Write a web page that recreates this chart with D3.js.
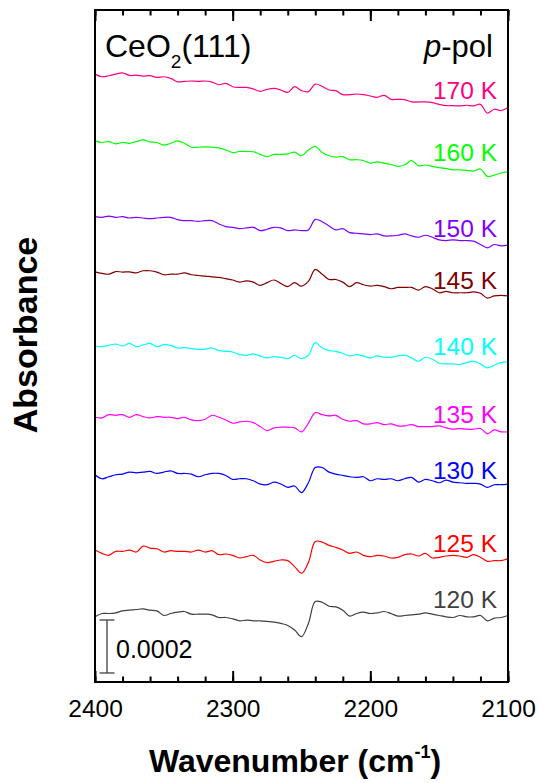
<html>
<head>
  <meta charset="UTF-8">
  <script src="https://d3js.org/d3.v7.min.js"></script>
  <style>
    body { margin: 0; background: #fff; }
    text { font-family: "Liberation Sans", Arial, sans-serif; }
  </style>
</head>
<body>
  <svg id="chart" width="539" height="783"></svg>
  <script>
    // spectra sampled every 5 cm-1 from 2400 to 2100, values in 1e-5 absorbance units
    const wavenumbers = d3.range(2400, 2099, -5);
    const temps = ["170 K", "160 K", "150 K", "145 K", "140 K", "135 K", "130 K", "125 K", "120 K"];
    const colors = ["#ff0080", "#00ff00", "#8000ff", "#800000", "#00ffff", "#ff00ff", "#0000ff", "#ff0000", "#404040"];
    const offsets = [229.4, 204.2, 175.6, 154.8, 126.8, 99.9, 78.2, 49.8, 24.6];

    const s170 = [0,-1.0,-0.6,0,0.5,-0.5,-0.4,-0.75,-0.6,-1.25, -1.0,-1.6,-2.9,-2.75,-2.6,-2.75,-2.6,-3.0,-4.0,-3.5,
      -4.75,-5.0,-5.0,-5.6,-6.5,-5.75,-5.4,-6.0,-6.9,-4.75, -6.25,-6.6,-3.75,-4.6,-6.0,-6.25,-7.75,-7.75,-7.5,-7.75,
      -8.25,-8.75,-8.0,-9.5,-9.5,-9.6,-10.5,-10.5,-10.5,-10.75, -11.4,-11.9,-11.9,-12.0,-11.75,-12.0,-11.4,-14.75,-13.25,-13.75, -12.6];
    const s160 = [0,-0.6,-0.25,-1.1,-0.6,-0.9,-0.25,0.4,-0.4,-0.6, -1.6,-0.9,0,-0.9,-2.4,-2.4,-2.25,-2.4,-2.6,-3.4,
      -4.4,-4.0,-4.0,-4.1,-5.1,-5.9,-5.1,-5.1,-4.9,-4.25, -5.6,-3.4,-2.1,-4.4,-5.6,-6.1,-5.9,-7.1,-7.1,-7.4,
      -8.4,-7.9,-8.4,-8.9,-9.6,-9.0,-7.4,-9.4,-9.1,-9.6, -10.1,-10.4,-10.9,-10.9,-11.1,-11.4,-10.6,-13.4,-12.9,-12.1, -11.6];
    const s150 = [0,-0.25,0.25,-0.25,0,-0.5,-0.25,-0.5,-0.75,-0.5, -0.25,-0.25,-1.1,-1.5,-1.5,-1.75,-1.5,-1.5,-2.75,-3.75,
      -4.0,-4.5,-4.25,-4.0,-5.25,-4.75,-4.0,-4.25,-5.25,-5.0, -5.25,-5.0,-1.0,-1.9,-3.5,-5.0,-4.5,-6.0,-6.25,-6.5,
      -6.75,-6.5,-7.25,-7.25,-7.0,-6.5,-7.25,-7.75,-7.0,-7.75, -8.75,-9.0,-8.75,-9.0,-9.0,-9.25,-10.5,-11.75,-10.5,-11.0, -10.75];
    const s145 = [0,-0.6,-0.9,0.1,-0.1,0,-0.4,0.4,0.4,-0.1, -1.1,-0.9,-0.9,-0.4,-1.1,-1.4,-1.6,-1.9,-2.1,-2.6,
      -3.1,-3.9,-3.4,-3.9,-5.1,-4.1,-3.1,-4.4,-5.6,-4.1, -5.4,-3.6,0.9,-0.9,-2.9,-2.9,-3.9,-5.6,-4.1,-4.9,
      -5.4,-5.1,-5.6,-6.4,-5.9,-5.9,-5.9,-6.9,-5.6,-6.4, -7.9,-7.4,-7.9,-7.9,-7.9,-7.6,-8.1,-9.9,-9.1,-8.9, -9.1];
    const s140 = [0,-0.25,0.25,0.75,0,1.0,-0.25,0.4,1.0,-0.25, 0.5,0.25,-0.75,-0.6,-1.0,-1.25,-1.25,-0.75,-1.75,-2.0,
      -2.25,-3.25,-3.5,-3.0,-3.75,-4.5,-4.0,-4.25,-4.75,-3.5, -4.75,-3.5,1.25,-0.75,-1.75,-2.0,-2.75,-3.75,-3.25,-3.75,
      -4.5,-3.75,-4.25,-4.25,-3.75,-3.5,-4.5,-5.75,-4.25,-5.0, -6.5,-6.75,-6.75,-7.0,-6.25,-5.75,-6.75,-8.25,-7.25,-6.25, -6.0];
    const s135 = [0,-0.25,1.0,0.75,1.0,0,1.0,0.25,-0.25,0.25, 0,0,-0.5,0,-1.0,-1.25,-0.75,0.75,0,-1.0,
      -2.25,-1.75,-1.5,-2.0,-3.5,-5.0,-4.0,-3.75,-3.75,-4.0, -5.5,-2.25,1.75,1.0,0.5,0.75,-0.75,-1.5,-1.25,-2.5,
      -2.5,-2.0,-2.75,-2.5,-3.25,-3.25,-2.75,-3.5,-3.5,-3.5, -3.25,-4.0,-4.5,-4.25,-4.5,-4.5,-4.25,-6.25,-4.75,-5.5, -5.5];
    const s130 = [0,-1.5,-0.75,0,0.25,1.0,0.75,1.0,1.25,0.5, 1.0,1.5,0.5,0.5,0.25,-0.75,0,0.5,0.5,-0.25,
      -1.75,-1.5,-1.5,-2.25,-3.5,-3.75,-2.75,-3.5,-4.75,-4.25, -6.75,-3.0,2.75,2.75,1.0,0.25,-0.25,-0.75,-1.0,-0.75,
      -2.25,-1.5,-1.75,-1.5,-2.25,-1.5,-1.0,-2.75,-1.75,-2.25, -3.0,-2.0,-2.75,-3.0,-3.25,-3.25,-3.5,-4.75,-3.75,-3.75, -3.5];
    const s125 = [0,-1.25,-2.0,-0.5,-0.5,0,-0.75,1.5,0.75,0.5, -0.75,-0.25,-0.5,-0.5,-0.75,0,-0.75,-0.25,-1.75,-1.5,
      -2.0,-3.0,-2.5,-2.0,-3.75,-4.75,-4.25,-3.75,-4.0,-6.25, -8.75,-4.75,3.25,3.0,1.75,1.0,0,-1.25,-0.75,-2.0,
      -2.5,-2.0,-2.25,-3.0,-2.75,-1.75,-1.5,-2.25,-1.25,-3.0, -2.75,-2.25,-2.0,-2.25,-2.75,-1.75,-2.75,-4.25,-4.0,-4.0, -3.25];
    const s120 = [0,1.25,1.25,1.5,2.25,2.5,2.75,3.0,2.5,2.25, 0.5,1.25,1.75,2.0,1.0,1.0,1.0,0.75,-0.25,-0.25,
      -0.75,-1.5,-1.25,-1.5,-1.5,-1.75,-2.0,-2.5,-3.25,-5.0, -7.5,-2.5,5.75,5.5,4.0,3.75,2.5,0.25,1.25,1.75,
      1.25,1.5,2.0,1.25,0.25,0.5,0.75,1.0,1.5,1.0, 0.5,0,-0.25,0.5,0,0,0.5,-1.5,-0.5,-0.25, 0.5];
    const spectra = [s170, s160, s150, s145, s140, s135, s130, s125, s120];

    const majorTicks = [2400, 2300, 2200, 2100];
    const minorTicks = d3.range(2400, 2099, -20);
    const scaleBarValue = 20; // 20 x 1e-5 = 0.0002

    // layout
    const plotLeft = 95, plotRight = 508, plotTop = 10, plotBottom = 682;
    const labelY = [98.7, 160.7, 236.7, 289, 355.3, 423.3, 478.7, 552, 608.3];

    const svg = d3.select("#chart");

    const x = d3.scaleLinear().domain([2400, 2100]).range([plotLeft, plotRight]);
    const y = d3.scaleLinear().domain([0, 253.6]).range([plotBottom, plotTop]);

    // curves
    const line = d3.line()
      .x((d, i) => x(wavenumbers[i]))
      .y(d => y(d))
      .curve(d3.curveCatmullRom);

    spectra.forEach((s, k) => {
      svg.append("path")
        .datum(s.map(v => v + offsets[k]))
        .attr("d", line)
        .attr("fill", "none")
        .attr("stroke", colors[k])
        .attr("stroke-width", 1.2);
      svg.append("text")
        .attr("x", 497)
        .attr("y", labelY[k])
        .attr("text-anchor", "end")
        .attr("font-size", 24.5)
        .attr("fill", colors[k])
        .text(temps[k]);
    });

    // axes: bottom labels + inward ticks, top inward ticks
    const bottomAxis = svg.append("g")
      .attr("transform", "translate(0," + plotBottom + ")")
      .call(d3.axisBottom(x).tickValues(majorTicks).tickSize(-11).tickPadding(18).tickFormat(d3.format("d")));
    bottomAxis.select(".domain").remove();
    bottomAxis.selectAll("line").attr("stroke-width", 2);
    bottomAxis.selectAll("text").attr("font-size", 24.5).attr("font-family", "Liberation Sans, Arial, sans-serif").attr("fill", "#000");

    const bottomMinor = svg.append("g")
      .attr("transform", "translate(0," + plotBottom + ")")
      .call(d3.axisBottom(x).tickValues(minorTicks).tickSize(-5.5).tickFormat(""));
    bottomMinor.select(".domain").remove();
    bottomMinor.selectAll("line").attr("stroke-width", 2);

    const topAxis = svg.append("g")
      .attr("transform", "translate(0," + plotTop + ")")
      .call(d3.axisTop(x).tickValues(majorTicks).tickSize(-11).tickFormat(""));
    topAxis.select(".domain").remove();
    topAxis.selectAll("line").attr("stroke-width", 2);

    const topMinor = svg.append("g")
      .attr("transform", "translate(0," + plotTop + ")")
      .call(d3.axisTop(x).tickValues(minorTicks).tickSize(-5.5).tickFormat(""));
    topMinor.select(".domain").remove();
    topMinor.selectAll("line").attr("stroke-width", 2);

    // frame
    svg.append("rect")
      .attr("x", plotLeft).attr("y", plotTop)
      .attr("width", plotRight - plotLeft).attr("height", plotBottom - plotTop)
      .attr("fill", "none").attr("stroke", "#000").attr("stroke-width", 2);

    // scale bar
    const sbX = 107, sbBottom = y(3.4), sbTop = y(3.4 + scaleBarValue);
    const sb = svg.append("g").attr("stroke", "#404040").attr("stroke-width", 1.3);
    sb.append("line").attr("x1", sbX).attr("x2", sbX).attr("y1", sbTop).attr("y2", sbBottom);
    sb.append("line").attr("x1", sbX - 7.5).attr("x2", sbX + 7.5).attr("y1", sbTop).attr("y2", sbTop);
    sb.append("line").attr("x1", sbX - 7.5).attr("x2", sbX + 7.5).attr("y1", sbBottom).attr("y2", sbBottom);
    svg.append("text")
      .attr("x", 116).attr("y", 658.3)
      .attr("font-size", 25)
      .text((scaleBarValue * 1e-5).toFixed(4));

    // sample + polarisation labels
    const sample = svg.append("text").attr("x", 105).attr("y", 57.3).attr("font-size", 32);
    sample.append("tspan").text("CeO");
    sample.append("tspan").attr("font-size", 19).attr("dy", 11).text("2");
    sample.append("tspan").attr("dy", -11).text("(111)");

    const pol = svg.append("text").attr("x", 493).attr("y", 57.3).attr("font-size", 31).attr("text-anchor", "end");
    pol.append("tspan").attr("font-style", "italic").text("p");
    pol.append("tspan").text("-pol");

    // axis titles
    const xTitle = svg.append("text")
      .attr("x", 295).attr("y", 772)
      .attr("text-anchor", "middle")
      .attr("font-size", 32).attr("font-weight", "bold");
    xTitle.append("tspan").text("Wavenumber (cm");
    xTitle.append("tspan").attr("font-size", 18).attr("dy", -14).text("-1");
    xTitle.append("tspan").attr("dy", 14).text(")");

    svg.append("text")
      .attr("transform", "translate(37,335) rotate(-90)")
      .attr("text-anchor", "middle")
      .attr("font-size", 34).attr("font-weight", "bold")
      .text("Absorbance");
  </script>
</body>
</html>
